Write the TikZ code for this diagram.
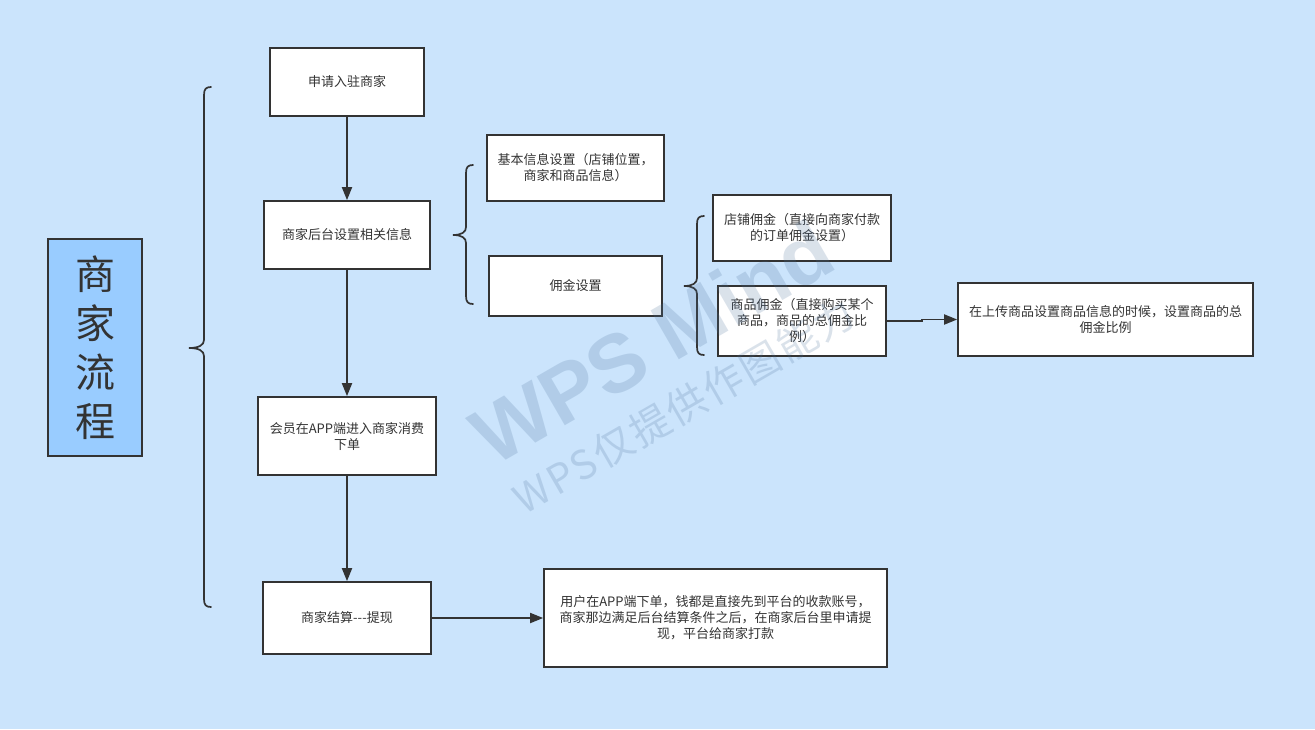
\documentclass[tikz,border=0pt]{standalone}
\usepackage{fontspec}
\setmainfont{Noto Sans CJK SC}
\newfontfamily\wmfont{Liberation Sans}
\newfontfamily\wmcjk{Noto Sans CJK SC}[LetterSpace=6]
\usetikzlibrary{arrows.meta}
\definecolor{bgblue}{HTML}{CBE4FC}
\definecolor{titleblue}{HTML}{99CCFF}
\definecolor{ink}{HTML}{333333}
\definecolor{wmark}{HTML}{4A6F9A}
\tikzset{
  box/.style={draw=ink, line width=1.7pt, fill=white, inner sep=0pt, align=center,
    text=ink, font=\fontsize{13}{16}\selectfont},
  flow/.style={draw=ink, line width=1.8pt, -{Triangle[length=13pt,width=10pt]}},
  brace/.style={draw=ink, line width=1.7pt, line cap=round},
  wm/.style={text=wmark, text opacity=0.2, rotate=30}
}
\begin{document}
\begin{tikzpicture}[x=1pt,y=-1pt]
\fill[bgblue] (0,0) rectangle (1315,729);
\useasboundingbox (0,0) rectangle (1315,729);
% title
\node[draw=ink, line width=1.7pt, fill=titleblue, minimum width=94pt, minimum height=217pt, inner sep=0pt,
  align=center, text=ink, font=\fontsize{40}{49}\selectfont] (title) at (95,347.5) {商\\家\\流\\程};
% main boxes
\node[box, minimum width=154pt, minimum height=68pt] (apply) at (347,82) {申请入驻商家};
\node[box, minimum width=166pt, minimum height=68pt] (setup) at (347,235) {商家后台设置相关信息};
\node[box, minimum width=178pt, minimum height=78pt] (member) at (347,436) {会员在APP端进入商家消费\\下单};
\node[box, minimum width=168pt, minimum height=72pt] (settle) at (347,618) {商家结算\mbox{-}\mbox{-}\mbox{-}提现};
\node[box, minimum width=177pt, minimum height=66pt] (basic) at (575.5,168) {基本信息设置（店铺位置，\\商家和商品信息）};
\node[box, minimum width=173pt, minimum height=60pt] (comm) at (575.5,286) {佣金设置};
\node[box, minimum width=178pt, minimum height=66pt] (shopc) at (802,228) {店铺佣金（直接向商家付款\\的订单佣金设置）};
\node[box, minimum width=168pt, minimum height=70pt] (goodc) at (802,321) {商品佣金（直接购买某个\\商品，商品的总佣金比\\例）};
\node[box, minimum width=295pt, minimum height=73pt] (upload) at (1105.5,319.5) {在上传商品设置商品信息的时候，设置商品的总\\佣金比例};
\node[box, minimum width=343pt, minimum height=98pt] (user) at (715.5,618) {用户在APP端下单，钱都是直接先到平台的收款账号，\\商家那边满足后台结算条件之后，在商家后台里申请提\\现，平台给商家打款};
% connectors
\draw[flow] (apply) -- (setup);
\draw[flow] (setup) -- (member);
\draw[flow] (member) -- (settle);
\draw[flow] (settle) -- (user);
\coordinate (kink) at (922,321);
\draw[flow] (goodc.east) -- (kink) |- (upload.west);
% braces
\draw[brace] (211,87) .. controls (206,87) and (204,89) .. (204,95) -- (204,340)
  .. controls (204,345) and (199,348) .. (189,348)
  .. controls (199,348) and (204,351) .. (204,356) -- (204,599)
  .. controls (204,605) and (206,607) .. (211,607);
\draw[brace] (473,165) .. controls (468,165) and (466,167) .. (466,173) -- (466,227)
  .. controls (466,232) and (462,235) .. (453,235)
  .. controls (462,235) and (466,238) .. (466,243) -- (466,296)
  .. controls (466,302) and (468,304) .. (473,304);
\draw[brace] (704,216) .. controls (699,216) and (697,218) .. (697,224) -- (697,278)
  .. controls (697,283) and (693,286) .. (684,286)
  .. controls (693,286) and (697,289) .. (697,294) -- (697,347)
  .. controls (697,353) and (699,355) .. (704,355);
% watermark
\node[wm, font=\wmfont\bfseries\fontsize{82}{84}\selectfont] (wm1) at (652,342) {WPS Mind};
\node[wm, font=\wmcjk\fontsize{40}{42}\selectfont] (wm2) at (684,406) {WPS仅提供作图能力};
\end{tikzpicture}
\end{document}
